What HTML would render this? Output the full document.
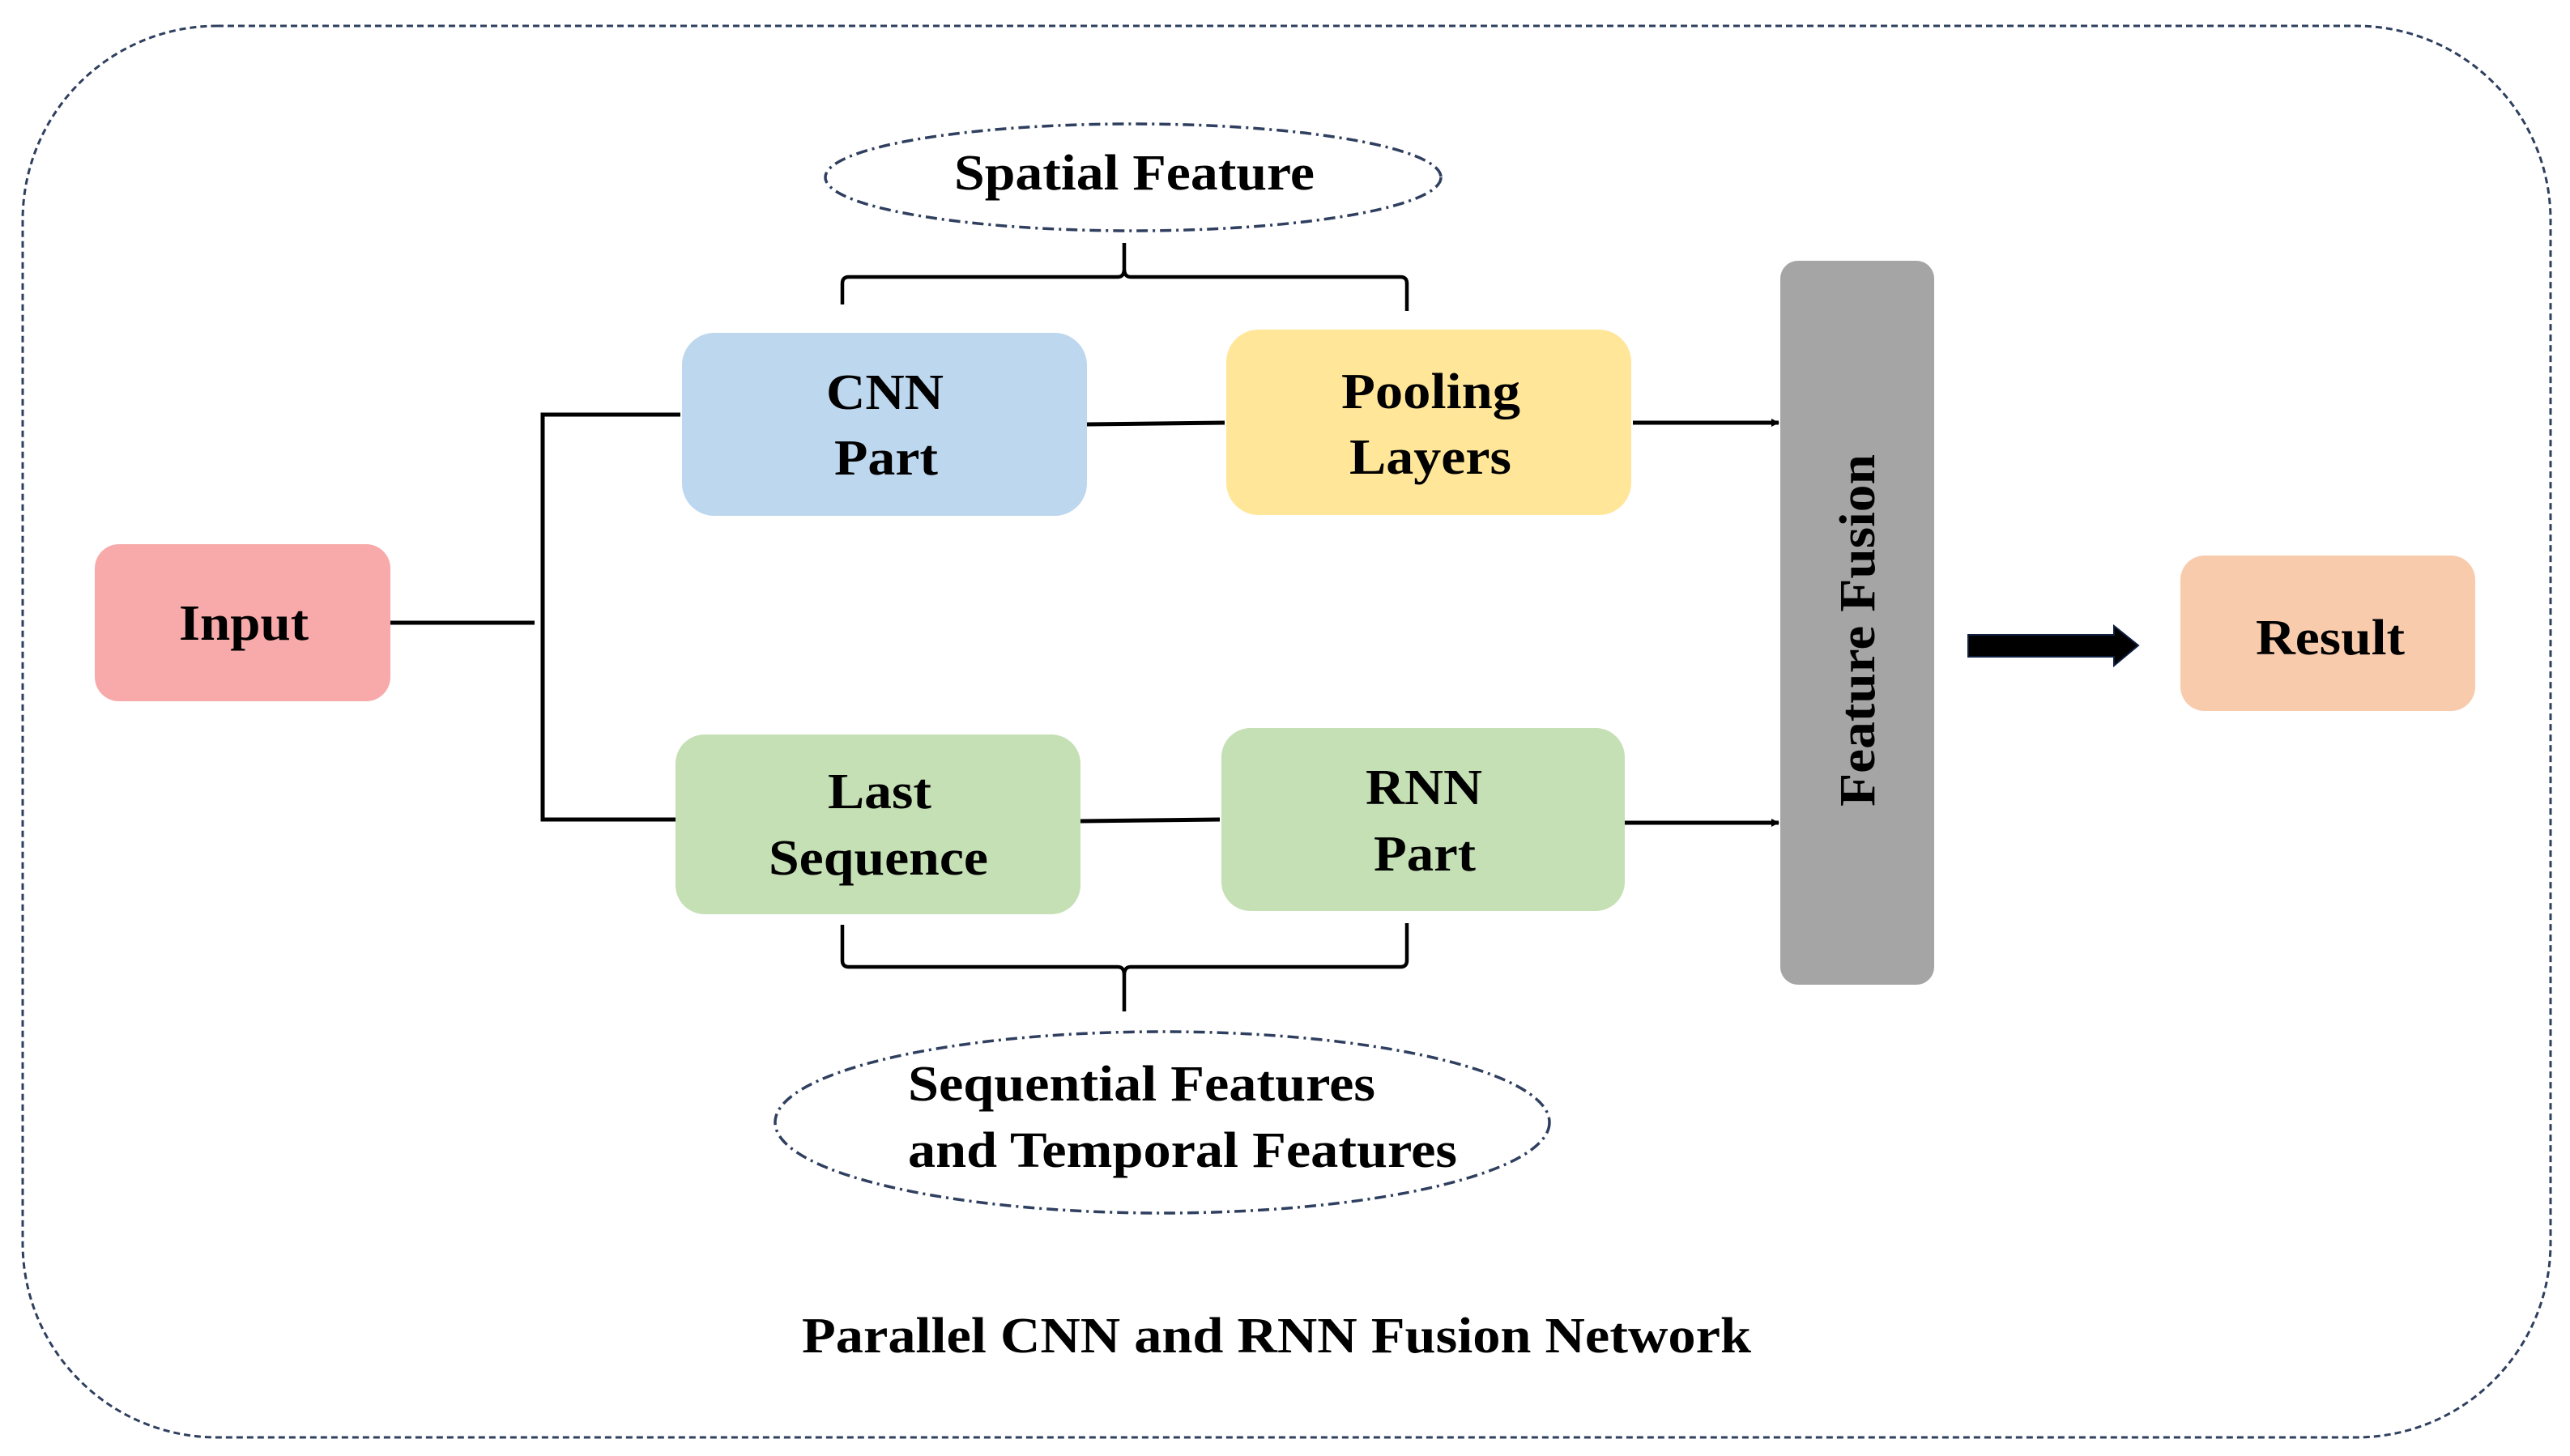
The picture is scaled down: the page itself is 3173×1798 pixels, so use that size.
<!DOCTYPE html>
<html><head><meta charset="utf-8"><style>
html,body{margin:0;padding:0;background:#fff;}
svg{display:block;}
text{font-family:"Liberation Serif","DejaVu Serif",serif;font-weight:bold;fill:#000;}
</style></head><body>
<svg width="3173" height="1798" viewBox="0 0 3173 1798" xmlns="http://www.w3.org/2000/svg" font-family="Liberation Serif, serif">
<defs>
<marker id="ah" markerWidth="10" markerHeight="10" refX="9" refY="5" orient="auto" markerUnits="userSpaceOnUse">
<path d="M0,0 L10,5 L0,10 Z" fill="#000"/>
</marker>
</defs>
<rect x="28" y="32" width="3121" height="1743" rx="240" ry="240" fill="none" stroke="#2f3f5f" stroke-width="3" stroke-dasharray="8,5"/>
<ellipse cx="1399" cy="219" rx="380" ry="66" fill="none" stroke="#2f3f5f" stroke-width="3.5" stroke-dasharray="14,6,3,6"/>
<text x="1178" y="234" font-size="62" textLength="445" lengthAdjust="spacingAndGlyphs">Spatial Feature</text>
<path d="M1040,376 L1040,350 Q1040,342 1048,342 L1380,342 Q1388,342 1388,332 L1388,300 M1388,332 Q1388,342 1396,342 L1729,342 Q1737,342 1737,350 L1737,384" fill="none" stroke="#000" stroke-width="4.5"/>
<rect x="842" y="411" width="500" height="226" rx="40" fill="#bdd7ee"/>
<text x="1020" y="505" font-size="62" textLength="145" lengthAdjust="spacingAndGlyphs">CNN</text>
<text x="1030" y="586" font-size="62" textLength="128" lengthAdjust="spacingAndGlyphs">Part</text>
<rect x="1514" y="407" width="500" height="229" rx="40" fill="#ffe699"/>
<text x="1656" y="504" font-size="62" textLength="221" lengthAdjust="spacingAndGlyphs">Pooling</text>
<text x="1666" y="585" font-size="62" textLength="200" lengthAdjust="spacingAndGlyphs">Layers</text>
<rect x="117" y="672" width="365" height="194" rx="30" fill="#f8aaaa"/>
<text x="221" y="790" font-size="62" textLength="160" lengthAdjust="spacingAndGlyphs">Input</text>
<rect x="834" y="907" width="500" height="222" rx="36" fill="#c5e0b4"/>
<text x="1022" y="998" font-size="62" textLength="128" lengthAdjust="spacingAndGlyphs">Last</text>
<text x="949" y="1080" font-size="62" textLength="271" lengthAdjust="spacingAndGlyphs">Sequence</text>
<rect x="1508" y="899" width="498" height="226" rx="36" fill="#c5e0b4"/>
<text x="1686" y="993" font-size="62" textLength="144" lengthAdjust="spacingAndGlyphs">RNN</text>
<text x="1696" y="1075" font-size="62" textLength="126" lengthAdjust="spacingAndGlyphs">Part</text>
<rect x="2198" y="322" width="190" height="894" rx="22" fill="#a5a5a5"/>
<text transform="translate(2314,996) rotate(-90)" font-size="62" textLength="435" lengthAdjust="spacingAndGlyphs">Feature Fusion</text>
<rect x="2692" y="686" width="364" height="192" rx="30" fill="#f8cbad"/>
<text x="2785" y="808" font-size="62" textLength="184" lengthAdjust="spacingAndGlyphs">Result</text>
<g stroke="#000" stroke-width="5" fill="none">
<path d="M482,769 L660,769"/>
<path d="M840,512 L670,512 L670,1012 L834,1012"/>
<path d="M1342,524 L1512,522"/>
<path d="M1334,1014 L1506,1012"/>
<path d="M2016,522 L2196,522" marker-end="url(#ah)"/>
<path d="M2006,1016 L2196,1016" marker-end="url(#ah)"/>
</g>
<path d="M2430,784 L2610,784 L2610,773 L2640,797 L2610,822 L2610,811 L2430,811 Z" fill="#000" stroke="#0f1f3f" stroke-width="2"/>
<path d="M1040,1142 L1040,1186 Q1040,1194 1048,1194 L1380,1194 Q1388,1194 1388,1204 L1388,1249 M1388,1204 Q1388,1194 1396,1194 L1729,1194 Q1737,1194 1737,1186 L1737,1140" fill="none" stroke="#000" stroke-width="4.5"/>
<ellipse cx="1435" cy="1386" rx="478" ry="112" fill="none" stroke="#2f3f5f" stroke-width="3.5" stroke-dasharray="14,6,3,6"/>
<text x="1121" y="1359" font-size="62" textLength="577" lengthAdjust="spacingAndGlyphs">Sequential Features</text>
<text x="1121" y="1441" font-size="62" textLength="678" lengthAdjust="spacingAndGlyphs">and Temporal Features</text>
<text x="990" y="1670" font-size="62" textLength="1172" lengthAdjust="spacingAndGlyphs">Parallel CNN and RNN Fusion Network</text>
</svg>
</body></html>
